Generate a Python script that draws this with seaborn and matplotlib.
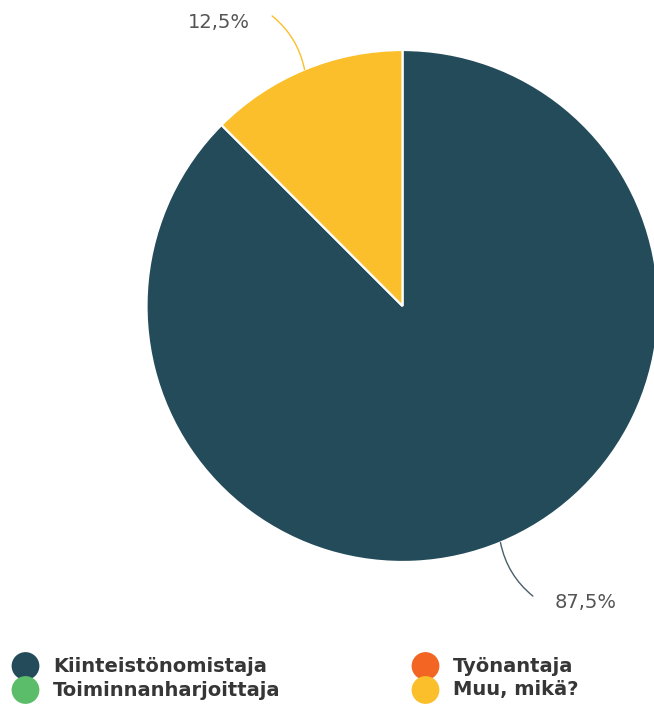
import numpy as np
import pandas as pd
import matplotlib
matplotlib.use("Agg")
import matplotlib.pyplot as plt
import seaborn as sns

# Survey answers: who is responsible
categories = ["Kiinteistönomistaja", "Toiminnanharjoittaja", "Työnantaja", "Muu, mikä?"]
shares = [87.5, 0.0, 0.0, 12.5]
colors = ["#234b5a", "#5bbd6a", "#f26522", "#fbbf2b"]
pct_labels = ["87,5%", "0%", "0%", "12,5%"]

sns.set_theme(style="white")
plt.rcParams["font.family"] = ["DejaVu Sans"]

W, H = 654, 709
fig = plt.figure(figsize=(W / 100, H / 100), dpi=100)
ax = fig.add_axes([0, 0, 1, 1])

# Only answered categories get a wedge
idx = [i for i, v in enumerate(shares) if v > 0]
cx, cy, r = 402.5, H - 306, 256
wedges, _ = ax.pie(
    [shares[i] for i in idx],
    colors=[colors[i] for i in idx],
    startangle=90,
    counterclock=False,
    center=(cx, cy),
    radius=r,
    wedgeprops=dict(edgecolor="white", linewidth=1.6),
)

ax.set_xlim(0, W)
ax.set_ylim(0, H)
ax.set_aspect("equal")
ax.axis("off")

# Percentage labels with curved leader lines
for w, i in zip(wedges, idx):
    mid = np.deg2rad((w.theta1 + w.theta2) / 2)
    edge = (cx + r * np.cos(mid), cy + r * np.sin(mid))
    a2 = mid + np.deg2rad(1.7)
    end = (cx + 318 * np.cos(a2), cy + 318 * np.sin(a2))
    right = np.cos(mid) >= 0
    lc = colors[i] if i != 0 else "#4a5f6a"
    ax.annotate(
        "", xy=edge, xytext=end,
        arrowprops=dict(arrowstyle="-", color=lc, lw=1.0,
                        connectionstyle="arc3,rad=-0.18",
                        shrinkA=0, shrinkB=0),
    )
    ax.text(end[0] + (22 if right else -22), end[1] - 6.5, pct_labels[i],
            ha="left" if right else "right", va="center",
            fontsize=14, color="#555555")

# Legend: two columns of round markers with bold labels
leg_x = [25.5, 25.5, 425.5, 425.5]
leg_y = [H - 666, H - 690, H - 666, H - 690]
leg = pd.DataFrame({"x": leg_x, "y": leg_y, "cat": categories})
sns.scatterplot(data=leg, x="x", y="y", hue="cat", palette=colors,
                hue_order=categories, s=400, linewidth=0, legend=False, ax=ax)
for x, y, c in zip(leg_x, leg_y, categories):
    ax.text(x + 27.5, y, c, ha="left", va="center", fontsize=14,
            fontweight="bold", color="#363636")

ax.set_xlim(0, W)
ax.set_ylim(0, H)
ax.set_xlabel("")
ax.set_ylabel("")
ax.axis("off")

fig.savefig("out.png", dpi=100, facecolor="white")
